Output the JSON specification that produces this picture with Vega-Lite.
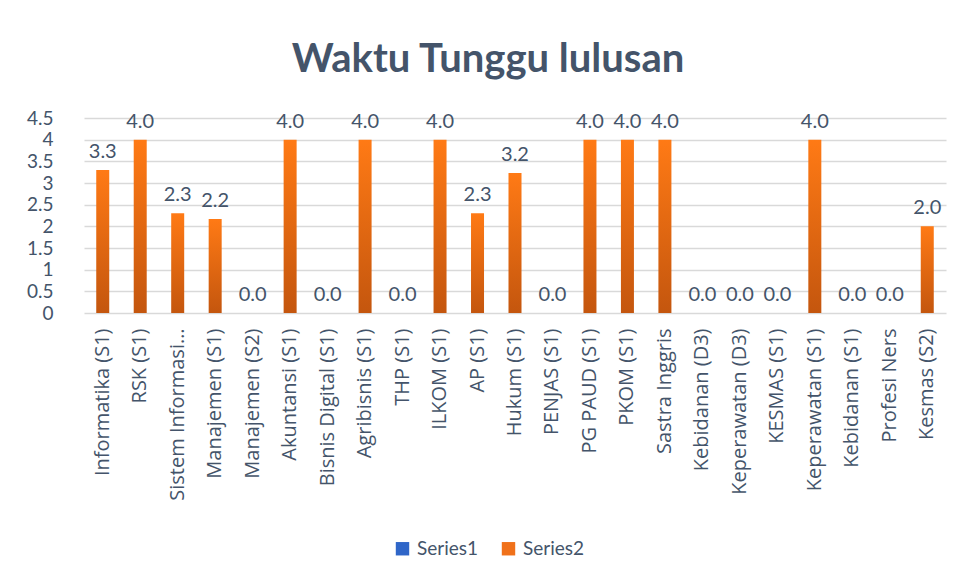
{
  "$schema": "https://vega.github.io/schema/vega-lite/v6.json",
  "width": 860,
  "height": 195,
  "autosize": "none",
  "padding": {"left": 78, "top": 118, "right": 17, "bottom": 266},
  "background": "white",
  "title": {"text": "Waktu Tunggu lulusan", "fontSize": 40, "font": "Lato", "fontWeight": "bold", "color": "#44546A", "anchor": "middle", "dx": -20, "offset": 29},
  "config": {"view": {"stroke": null}, "font": "Lato"},
  "data": {"values": [
    {"prodi": "Informatika (S1)", "series": "Series2", "value": 3.3},
    {"prodi": "RSK (S1)", "series": "Series2", "value": 4.0},
    {"prodi": "Sistem Informasi…", "series": "Series2", "value": 2.3},
    {"prodi": "Manajemen (S1)", "series": "Series2", "value": 2.17},
    {"prodi": "Manajemen (S2)", "series": "Series2", "value": 0},
    {"prodi": "Akuntansi  (S1)", "series": "Series2", "value": 4.0},
    {"prodi": "Bisnis Digital  (S1)", "series": "Series2", "value": 0},
    {"prodi": "Agribisnis  (S1)", "series": "Series2", "value": 4.0},
    {"prodi": "THP (S1)", "series": "Series2", "value": 0},
    {"prodi": "ILKOM (S1)", "series": "Series2", "value": 4.0},
    {"prodi": "AP (S1)", "series": "Series2", "value": 2.3},
    {"prodi": "Hukum (S1)", "series": "Series2", "value": 3.23},
    {"prodi": "PENJAS (S1)", "series": "Series2", "value": 0},
    {"prodi": "PG PAUD (S1)", "series": "Series2", "value": 4.0},
    {"prodi": "PKOM (S1)", "series": "Series2", "value": 4.0},
    {"prodi": "Sastra Inggris", "series": "Series2", "value": 4.0},
    {"prodi": "Kebidanan  (D3)", "series": "Series2", "value": 0},
    {"prodi": "Keperawatan  (D3)", "series": "Series2", "value": 0},
    {"prodi": "KESMAS (S1)", "series": "Series2", "value": 0},
    {"prodi": "Keperawatan (S1)", "series": "Series2", "value": 4.0},
    {"prodi": "Kebidanan (S1)", "series": "Series2", "value": 0},
    {"prodi": "Profesi Ners", "series": "Series2", "value": 0},
    {"prodi": "Kesmas (S2)", "series": "Series2", "value": 2.0}
  ]},
  "encoding": {
    "x": {"field": "prodi", "type": "nominal", "sort": null, "title": null,
      "scale": {"range": [6, 868]},
      "axis": {"labelAngle": -90, "labelFont": "Open Sans", "labelFontSize": 20, "labelColor": "#44546A", "ticks": false, "domain": false, "labelPadding": 15, "labelLimit": 300}},
    "y": {"field": "value", "type": "quantitative", "title": null, "scale": {"domain": [0, 4.5], "nice": false, "zero": true},
      "axis": {"values": [0, 0.5, 1, 1.5, 2, 2.5, 3, 3.5, 4, 4.5], "labelExpr": "'' + datum.value", "labelOverlap": false, "labelFontSize": 19, "labelColor": "#44546A", "ticks": false, "domain": false, "labelPadding": 25, "gridColor": "#D9D9D9", "gridWidth": 1.5}}
  },
  "layer": [
    {
      "mark": {"type": "bar", "size": 13, "fill": {"gradient": "linear", "x1": 0, "y1": 0, "x2": 0, "y2": 1, "stops": [{"offset": 0, "color": "#FF7A15"}, {"offset": 1, "color": "#C4560E"}]}}
    },
    {
      "mark": {"type": "text", "baseline": "bottom", "dy": -8, "fontSize": 20, "color": "#44546A"},
      "encoding": {
        "text": {"field": "value", "type": "quantitative", "format": ".1f"}
      }
    },
    {
      "mark": {"type": "square", "opacity": 0},
      "encoding": {
        "color": {"field": "series", "type": "nominal", "title": null,
          "scale": {"domain": ["Series1", "Series2"], "range": ["#2F66C8", "#F0711A"]},
          "legend": {"orient": "none", "legendX": 315, "legendY": 421, "direction": "horizontal", "symbolType": "square", "symbolSize": 180, "symbolOpacity": 1, "labelFontSize": 19, "labelColor": "#44546A", "columnPadding": 20, "labelOffset": 5}}
      }
    }
  ]
}
